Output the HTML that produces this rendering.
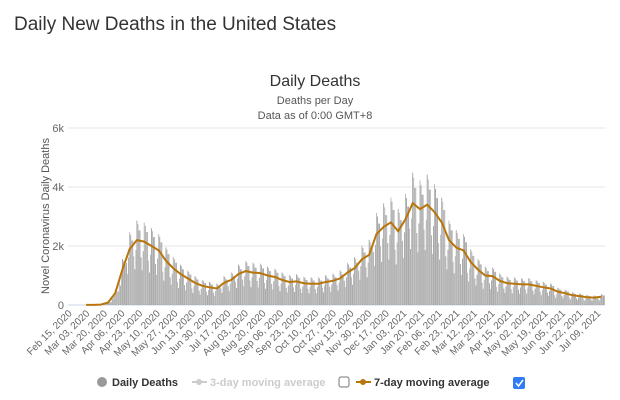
<!DOCTYPE html>
<html><head><meta charset="utf-8"><style>
body{margin:0;background:#fff;font-family:"Liberation Sans",sans-serif;}
#t{position:absolute;left:14px;top:14px;font-size:19px;color:#333;}
</style></head><body>
<div id="t">Daily New Deaths in the United States</div>
<svg id="c" width="620" height="400" style="position:absolute;left:0;top:0">
<text x="315" y="86" text-anchor="middle" font-size="16" fill="#333">Daily Deaths</text>
<text x="315" y="104" text-anchor="middle" font-size="11" fill="#555">Deaths per Day</text>
<text x="315" y="119" text-anchor="middle" font-size="11" fill="#555">Data as of 0:00 GMT+8</text>
<text transform="translate(49,216) rotate(-90)" text-anchor="middle" font-size="11" fill="#555">Novel Coronavirus Daily Deaths</text>
<g font-size="11" font-weight="bold">
<circle cx="102" cy="382" r="5" fill="#999"/>
<text x="112" y="386" fill="#333">Daily Deaths</text>
<line x1="192" y1="382" x2="207" y2="382" stroke="#ccc" stroke-width="2"/><circle cx="199" cy="382" r="3" fill="#ccc"/>
<text x="210" y="386" fill="#ccc">3-day moving average</text>
<rect x="339" y="377" width="10" height="10" rx="2" fill="#fff" stroke="#777"/>
<line x1="356" y1="382" x2="371" y2="382" stroke="#b8750a" stroke-width="2"/><circle cx="363" cy="382" r="3" fill="#b8750a"/>
<text x="374" y="386" fill="#333">7-day moving average</text>
<rect x="513" y="377" width="12" height="12" rx="2" fill="#2f7cf6"/>
<path d="M516 383 l2.5 3 l4.5 -6" stroke="#fff" stroke-width="1.5" fill="none"/>
</g>
</svg>
<script>
const weeklyAvg=[0,0,2,5,15,80,400,1200,1900,2200,2150,2000,1850,1500,1250,1050,900,750,650,600,560,750,850,1050,1150,1100,1080,1000,950,850,780,800,740,720,720,780,820,900,1100,1250,1550,1700,2400,2650,2800,2500,2900,3450,3250,3400,3150,2800,2200,1950,1850,1450,1200,1000,980,820,740,720,700,700,650,600,560,450,400,330,300,260,250,280];
const weekdayFactor=[0.75,0.55,0.85,1.3,1.25,1.15,1.15];
const yTicks=[0,2000,4000,6000];
const yTickLabels=["0","2k","4k","6k"];
const xTickLabels=["Feb 15, 2020","Mar 03, 2020","Mar 20, 2020","Apr 06, 2020","Apr 23, 2020","May 10, 2020","May 27, 2020","Jun 13, 2020","Jun 30, 2020","Jul 17, 2020","Aug 03, 2020","Aug 20, 2020","Sep 06, 2020","Sep 23, 2020","Oct 10, 2020","Oct 27, 2020","Nov 13, 2020","Nov 30, 2020","Dec 17, 2020","Jan 03, 2021","Jan 20, 2021","Feb 06, 2021","Feb 23, 2021","Mar 12, 2021","Mar 29, 2021","Apr 15, 2021","May 02, 2021","May 19, 2021","Jun 05, 2021","Jun 22, 2021","Jul 09, 2021"];
const lineStartWeek=2;
const NS="http://www.w3.org/2000/svg",svg=document.getElementById('c');
const nDays=weeklyAvg.length*7;
const X0=68,X1=605,Y0=305,Y1=128;
const x=d=>X0+(d+0.5)*(X1-X0)/nDays;
const y=v=>Y0-v*(Y0-Y1)/6000;
function mk(t,a){const e=document.createElementNS(NS,t);for(const k in a)e.setAttribute(k,a[k]);svg.appendChild(e);return e;}
yTicks.forEach((v,i)=>{
 const g=mk('line',{x1:X0,x2:X1,y1:y(v),y2:y(v),stroke:i?'#e6e6e6':'#ccd6eb'});
 
 
 const t=mk('text',{x:X0-4,y:y(v)+4,'text-anchor':'end','font-size':11,fill:'#666'});t.textContent=yTickLabels[i];
 
 
});
const bw=(X1-X0)/nDays;
for(let d=0;d<nDays;d++){
 const v=weeklyAvg[Math.floor(d/7)]*weekdayFactor[d%7];
 const r=mk('rect',{x:x(d)-bw*0.4,y:y(v),width:bw*0.8,height:Y0-y(v),fill:d%2?'#b0b0b0':'#9a9a9a'});
 
 
}
let p='';weeklyAvg.forEach((v,i)=>{if(i<lineStartWeek)return;p+=(i>lineStartWeek?'L':'M')+x(i*7+3).toFixed(1)+' '+y(v).toFixed(1);});
const ln=mk('path',{d:p,stroke:'#b8750a','stroke-width':2,fill:'none'});


xTickLabels.forEach((s,i)=>{
 const xx=x(i*17);
 const t=mk('text',{transform:`translate(${xx+4},${Y0+9}) rotate(-45)`,'text-anchor':'end','font-size':10,fill:'#666'});t.textContent=s;
 
 
});
</script>
</body></html>
